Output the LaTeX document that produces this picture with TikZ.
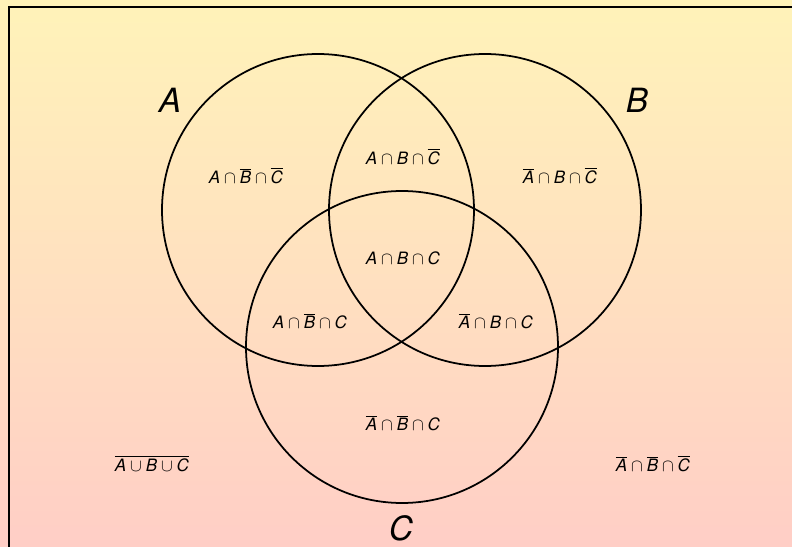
\documentclass[tikz,border=0pt]{standalone}
\usepackage{amsmath,amssymb}
\usepackage{fontspec}
\setmainfont{TeX Gyre Heros}
\usepackage{tikz}
\usetikzlibrary{positioning,calc}

\definecolor{bgtop}{RGB}{255,243,185}
\definecolor{bgbot}{RGB}{255,206,198}

\newcommand{\sA}{\textit{A}}
\newcommand{\sB}{\textit{B}}
\newcommand{\sC}{\textit{C}}
\newcommand{\nA}{\overline{\textit{A}}}
\newcommand{\nB}{\overline{\textit{B}}}
\newcommand{\nC}{\overline{\textit{C}}}

\begin{document}
\begin{tikzpicture}[
  x=0.02cm, y=-0.02cm,
  ring/.style={draw, line width=1pt},
  setname/.style={font=\fontsize{19}{21}\selectfont\itshape},
  region/.style={font=\fontsize{9.7}{11}\selectfont}
]

% Background
\clip (0,0) rectangle (792,547);
\shade[top color=bgtop, bottom color=bgbot] (0,0) rectangle (792,547);
\draw[line width=1.2pt] (9,7) rectangle (820,580);

% Circles
\coordinate (a) at (318,210);
\coordinate (b) at (485,210);
\coordinate (c) at (402,347);
\draw[ring] (a) circle[radius=156];
\draw[ring] (b) circle[radius=156];
\draw[ring] (c) circle[radius=156];

% Set names
\node[setname] (nameA) at (170,100) {A};
\node[setname] (nameB) at (637,100) {B};
\node[setname] (nameC) at (401,528) {C};

% Regions
\node[region] (abc1) at (246,176) {$\sA\cap\nB\cap\nC$};
\node[region] (abc2) at (403,157) {$\sA\cap\sB\cap\nC$};
\node[region] (abc3) at (560,176) {$\nA\cap\sB\cap\nC$};
\node[region] (abc4) at (403,258) {$\sA\cap\sB\cap\sC$};
\node[region] (abc5) at (310,321) {$\sA\cap\nB\cap\sC$};
\node[region] (abc6) at (496,321) {$\nA\cap\sB\cap\sC$};
\node[region] (abc7) at (403,423) {$\nA\cap\nB\cap\sC$};
\node[region] (abc8) at (152,464) {$\overline{\sA\cup\sB\cup\sC}$};
\node[region] (abc9) at (653,464) {$\nA\cap\nB\cap\nC$};

\end{tikzpicture}
\end{document}
